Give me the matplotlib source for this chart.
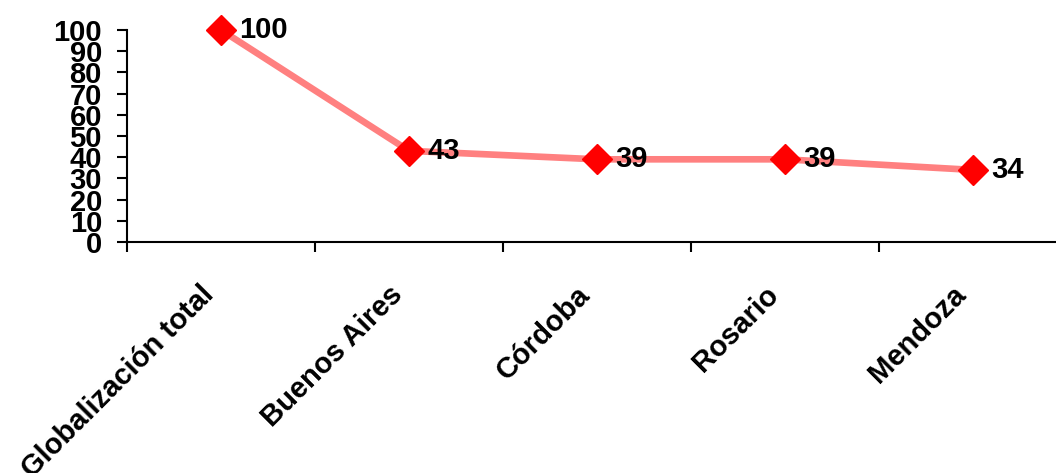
import matplotlib.pyplot as plt
import numpy as np

plt.rcParams['font.family'] = ['Liberation Sans', 'DejaVu Sans']
plt.rcParams['font.weight'] = 'bold'

categories = ['Globalización total', 'Buenos Aires', 'Córdoba', 'Rosario', 'Mendoza']
values = [100, 43, 39, 39, 34]

fig = plt.figure(figsize=(10.56, 4.73), dpi=100)
ax = fig.add_axes([127 / 1056, 1 - 242 / 473, 940 / 1056, 212 / 473])

x = np.arange(len(categories))
ax.plot(x, values, color='#ff8080', linewidth=4.8, zorder=2, clip_on=False)
ax.plot(x, values, linestyle='none', marker='D', markersize=15,
        color='#ff0000', zorder=3, clip_on=False)
for xi, v in zip(x, values):
    ax.annotate(str(v), (xi, v), xytext=(13, 0), textcoords='offset points',
                ha='left', va='center', fontsize=21, fontweight='bold')

ax.set_xlim(-0.5, len(categories) - 0.5)
ax.set_ylim(0, 100)
ax.set_yticks(np.arange(0, 101, 10))
ax.tick_params(axis='y', labelsize=21, length=7, width=1.5, pad=11)

ax.set_xticks(np.arange(-0.5, len(categories), 1))
ax.set_xticklabels([])
ax.tick_params(axis='x', which='major', length=7, width=1.5, direction='out')

# category names under each point, rotated like the original
for xi, name in zip(x, categories):
    ax.annotate(name, (xi, 0), xycoords=('data', 'axes fraction'),
                xytext=(-8, -35), textcoords='offset points',
                rotation=45, rotation_mode='anchor', ha='right', va='center',
                fontsize=21, fontweight='bold', annotation_clip=False)

for s in ['top', 'right']:
    ax.spines[s].set_visible(False)
for s in ['left', 'bottom']:
    ax.spines[s].set_linewidth(1.5)

fig.savefig('out.png', dpi=100)
